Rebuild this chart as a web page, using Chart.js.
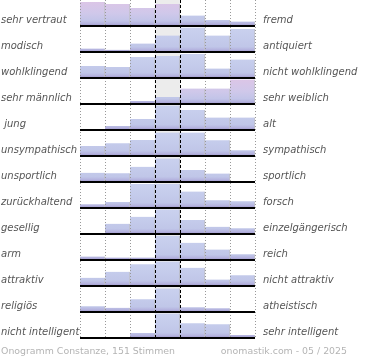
<!DOCTYPE html>
<html>
<head>
<meta charset="utf-8">
<script src="https://cdn.jsdelivr.net/npm/chart.js@4"></script>
<style>
body { margin: 0; background: #fff; }
#wrap { position: relative; width: 370px; height: 360px; }
.foot { position: absolute; top: 345px; font-family: "DejaVu Sans"; font-size: 9.4px; line-height: 12px; color: #b4b4b4; white-space: nowrap; }
</style>
</head>
<body>
<div id="wrap">
  <canvas id="chart" width="370" height="360"></canvas>
  <div class="foot" style="left:1px">Onogramm Constanze, 151 Stimmen</div>
  <div class="foot" style="right:23px">onomastik.com - 05 / 2025</div>
</div>
<script>
// labels on both sides
const leftLabels = ["sehr vertraut", "modisch", "wohlklingend", "sehr männlich", " jung", "unsympathisch",
    "unsportlich", "zurückhaltend", "gesellig", "arm", "attraktiv", "religiös", "nicht intelligent"];
const rightLabels = ["fremd", "antiquiert", "nicht wohlklingend", "sehr weiblich", "alt", "sympathisch",
    "sportlich", "forsch", "einzelgängerisch", "reich", "nicht attraktiv", "atheistisch", "sehr intelligent"];
const steps = ["1", "2", "3", "4", "5", "6", "7"];

// bar heights per row, in % of the row height
const vertraut     = [96, 88, 72, 88, 42, 24, 18];
const modisch      = [14, 9, 34, 66, 98, 66, 92];
const klang        = [48, 44, 84, 88, 96, 38, 74];
const geschlecht   = [0, 0, 12, 28, 62, 62, 98];
const alter        = [0, 16, 44, 98, 80, 50, 50];
const sympathie    = [40, 51, 64, 94, 94, 63, 23];
const sport        = [37, 35, 61, 94, 48, 34, 0];
const forsch       = [15, 24, 96, 96, 66, 31, 27];
const gesellig     = [0, 41, 69, 98, 56, 29, 23];
const reich        = [14, 10, 10, 97, 69, 42, 23];
const attraktiv    = [33, 57, 87, 98, 73, 26, 43];
const religion     = [23, 17, 51, 94, 19, 15, 4];
const intelligenz  = [0, 0, 20, 98, 59, 55, 12];

const rows = [vertraut, modisch, klang, geschlecht, alter, sympathie, sport,
    forsch, gesellig, reich, attraktiv, religion, intelligenz];

const ROW = 26;        // units per row
const FULL = 25;       // units for a 100% bar
const LABEL_UP = 5.5;  // label sits a bit above the row line
const TOTAL = rows.length * ROW;

// cells with the pink tint
const pinkCells = { 0: [0, 1, 2, 3], 3: [4, 5, 6] };

function barFill(ctx, r) {
    let chart = ctx.chart;
    if (!chart.chartArea || !chart.scales.y) return "#c4cbea";
    let y = chart.scales.y;
    let top = y.getPixelForValue(r * ROW);
    let bot = y.getPixelForValue((r + 1) * ROW);
    let pink = pinkCells[r] && pinkCells[r].includes(ctx.dataIndex);
    let g = chart.ctx.createLinearGradient(0, top, 0, bot);
    if (pink) {
        g.addColorStop(0, "#ddc5e6");
        g.addColorStop(0.5, "#d0c8ea");
        g.addColorStop(0.8, "#c2c4e8");
    } else {
        g.addColorStop(0, "#cbd2ef");
        g.addColorStop(0.5, "#c4cbeb");
        g.addColorStop(0.8, "#c0c6e8");
    }
    g.addColorStop(0.9, "#b6b5e0");
    g.addColorStop(1, "#9f97cc");
    return g;
}

let datasets = rows.map((vals, r) => ({
    label: leftLabels[r],
    yAxisID: "y",
    data: vals.map(v => v > 0 ? [(r + 1) * ROW, (r + 1) * ROW - v * FULL / 100] : null),
    backgroundColor: ctx => barFill(ctx, r),
    borderColor: "rgba(140,140,150,0.55)",
    borderWidth: { top: 1, right: 1, bottom: 0, left: 0 },
    grouped: false,
    barPercentage: 1,
    categoryPercentage: 1,
    order: 1
}));

// grey middle column behind the bars
datasets.push({
    label: "mitte",
    yAxisID: "y",
    data: steps.map((s, i) => i === 3 ? [0, TOTAL] : null),
    backgroundColor: "#ececec",
    borderWidth: 0,
    grouped: false,
    barPercentage: 1,
    categoryPercentage: 1,
    order: 5
});

function noPad(s) {
    s.paddingTop = 0;
    s.paddingBottom = 0;
    s.paddingLeft = 0;
    s.paddingRight = 0;
}

const labelFont = { family: "DejaVu Sans", size: 10, style: "italic" };
const isMid = c => c.index === 3 || c.index === 4;

new Chart(document.getElementById("chart"), {
    type: "bar",
    data: { labels: steps, datasets: datasets },
    options: {
        responsive: false,
        animation: false,
        layout: { padding: { left: 1, right: 0, top: 0, bottom: 22 } },
        plugins: { legend: { display: false }, tooltip: { enabled: false } },
        scales: {
            x: {
                type: "category",
                offset: true,
                ticks: { display: false },
                grid: {
                    offset: true, drawTicks: false, z: 1, lineWidth: 1,
                    color: c => isMid(c) ? "#000" : "#999"
                },
                border: { display: false, dash: c => isMid(c) ? [3, 2] : [1, 2] },
                afterFit: s => { s.height = 0; noPad(s); }
            },
            y: {
                type: "linear", axis: "y", position: "left",
                min: 0, max: TOTAL, reverse: true,
                afterBuildTicks: s => { s.ticks = rows.map((_, r) => ({ value: (r + 1) * ROW })); },
                ticks: { display: false },
                grid: { color: "#000", lineWidth: 2, drawTicks: false, z: 1 },
                border: { display: false },
                afterFit: s => { s.width = 0; noPad(s); }
            },
            yl: {
                type: "linear", axis: "y", position: "left",
                min: 0, max: TOTAL, reverse: true,
                afterBuildTicks: s => { s.ticks = rows.map((_, r) => ({ value: (r + 1) * ROW - LABEL_UP })); },
                ticks: {
                    autoSkip: false, crossAlign: "far", padding: 0, color: "#555", font: labelFont,
                    callback: (v, i) => leftLabels[i]
                },
                grid: { display: false, drawTicks: false },
                border: { display: false },
                afterFit: s => { s.width = 79; noPad(s); }
            },
            yr: {
                type: "linear", axis: "y", position: "right",
                min: 0, max: TOTAL, reverse: true,
                afterBuildTicks: s => { s.ticks = rows.map((_, r) => ({ value: (r + 1) * ROW - LABEL_UP })); },
                ticks: {
                    autoSkip: false, crossAlign: "near", padding: 8, color: "#555", font: labelFont,
                    callback: (v, i) => rightLabels[i]
                },
                grid: { display: false, drawTicks: false },
                border: { display: false },
                afterFit: s => { s.width = 115; noPad(s); }
            }
        }
    }
});
</script>
</body>
</html>
